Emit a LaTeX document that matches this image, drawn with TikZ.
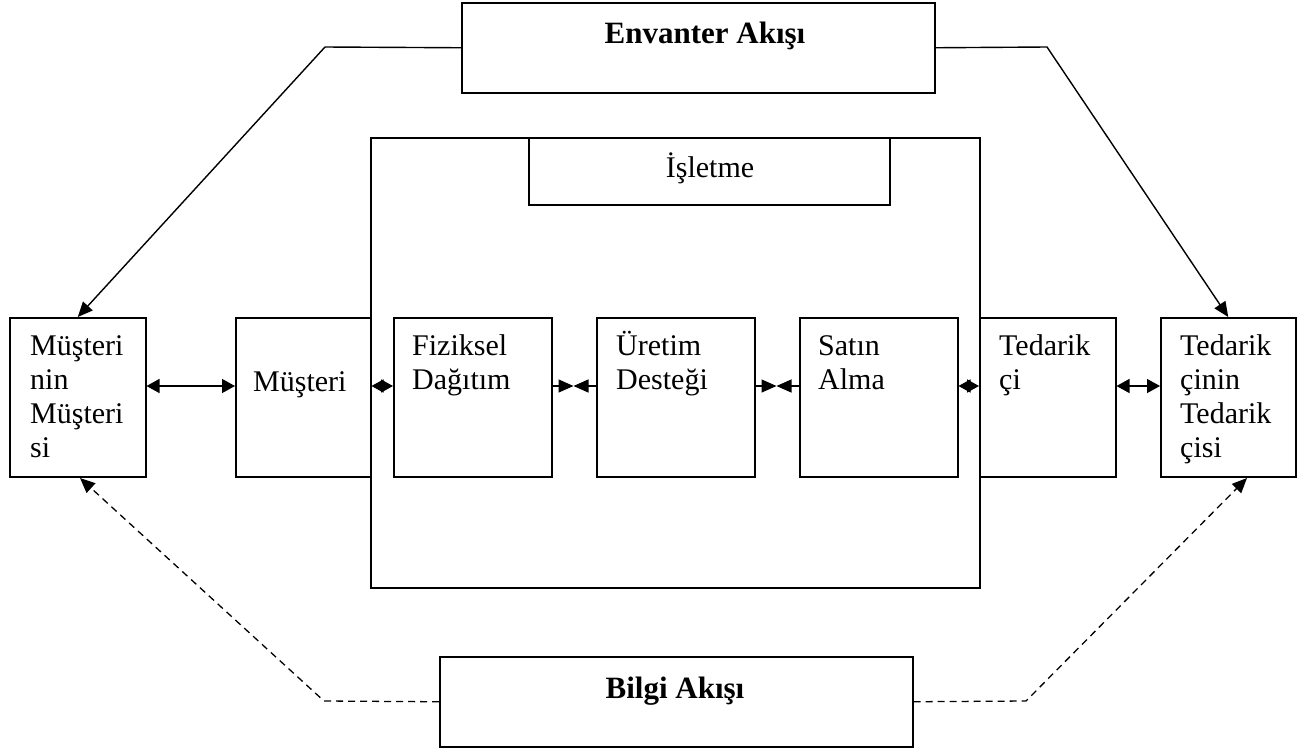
\documentclass[tikz,border=0pt]{standalone}
\usepackage{fontspec}
\setmainfont{Liberation Serif}
\usetikzlibrary{arrows.meta}

% multi-line box text, baseline on the first line
\newcommand{\boxlines}[1]{\parbox[t]{130pt}{\raggedright #1}}

\begin{document}
\begin{tikzpicture}[x=1pt,y=-1pt,
  box/.style={draw, line width=1.5pt, inner sep=0pt, anchor=north west},
  txt/.style={anchor=base west, inner sep=0pt, font=\fontsize{30}{34}\selectfont},
  title/.style={anchor=base, inner sep=0pt, font=\fontsize{31}{34}\selectfont\bfseries},
  link/.style={line width=1.4pt},
  tipboth/.style={{Triangle[length=13pt,width=14pt]}-{Triangle[length=13pt,width=14pt]}},
  tipend/.style={-{Triangle[length=15pt,width=13pt]}},
  tipsmall/.style={{Triangle[length=12pt,width=13pt]}-{Triangle[length=12pt,width=13pt]}},
  info/.style={line width=1.3pt, dash pattern=on 7pt off 5pt},
]
\useasboundingbox (0,0) rectangle (1310,753);

% the firm
\node[box, minimum width=609pt, minimum height=450pt] (firm) at (370,137) {};
\node[box, minimum width=361pt, minimum height=67pt] (firmhead) at (528,137) {};
\node[anchor=base, inner sep=0pt, font=\fontsize{30}{34}\selectfont] (firmlbl) at (710,177) {İşletme};

% flow boxes
\node[box, minimum width=473pt, minimum height=90pt] (env) at (461,2) {};
\node[title] (envlbl) at (705,43) {Envanter Akışı};
\node[box, minimum width=473pt, minimum height=90pt] (bil) at (439,656) {};
\node[title] (billbl) at (675,698) {Bilgi Akışı};

% chain members
\node[box, minimum width=136pt, minimum height=159pt] (mm) at (9,317) {};
\node[box, minimum width=135pt, minimum height=159pt] (mu) at (235,317) {};
\node[box, minimum width=158pt, minimum height=159pt] (fd) at (393,317) {};
\node[box, minimum width=158pt, minimum height=159pt] (ud) at (596,317) {};
\node[box, minimum width=158pt, minimum height=159pt] (sa) at (799,317) {};
\node[box, minimum width=136pt, minimum height=159pt] (td) at (979,317) {};
\node[box, minimum width=135pt, minimum height=159pt] (tt) at (1160,317) {};

\node[txt] (mmlbl) at (30,355) {\boxlines{Müşteri\\nin\\Müşteri\\si}};
\node[txt] (mulbl) at (253,391) {Müşteri};
\node[txt] (fdlbl) at (412,355) {\boxlines{Fiziksel\\Dağıtım}};
\node[txt] (udlbl) at (616,355) {\boxlines{Üretim\\Desteği}};
\node[txt] (salbl) at (818,355) {\boxlines{Satın\\Alma}};
\node[txt] (tdlbl) at (999,355) {\boxlines{Tedarik\\çi}};
\node[txt] (ttlbl) at (1180,355) {\boxlines{Tedarik\\çinin\\Tedarik\\çisi}};

% links between neighbours
\coordinate (m1) at (573.5,386);
\coordinate (m2) at (776.5,386);
\draw[link, tipboth] (mm.east |- 0,386) -- (mu.west |- 0,386);
\draw[link, tipsmall] (mu.east |- 0,386) -- (fd.west |- 0,386);
\draw[link, tipend] (fd.east |- m1) -- (m1);
\draw[link, tipend] (ud.west |- m1) -- (m1);
\draw[link, tipend] (ud.east |- m2) -- (m2);
\draw[link, tipend] (sa.west |- m2) -- (m2);
\draw[link, tipsmall] (sa.east |- 0,386) -- (td.west |- 0,386);
\draw[link, tipboth] (td.east |- 0,386) -- (tt.west |- 0,386);

% inventory flow
\coordinate (envL) at (325,47);
\coordinate (envR) at (1047,47);
\draw[link, tipend] (env.west) -- (envL) -- (mm.north);
\draw[link, tipend] (env.east) -- (envR) -- (tt.north);

% information flow
\coordinate (bilL) at (324,701);
\coordinate (bilR) at (1026,701);
\coordinate (mmIn) at (80,478);
\coordinate (ttIn) at (1247,478);
\draw[info, tipend] (bil.west) -- (bilL) -- (mmIn);
\draw[info, tipend] (bil.east) -- (bilR) -- (ttIn);
\end{tikzpicture}
\end{document}
